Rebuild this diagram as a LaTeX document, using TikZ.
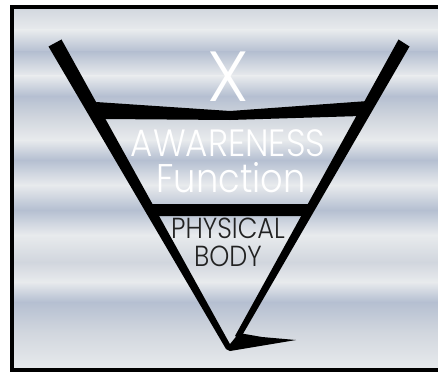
\documentclass[tikz,border=0pt]{standalone}
\usepackage{fontspec}
\newfontfamily\lightfont{Poppins}[UprightFont=* Light]
\definecolor{bglight}{rgb}{0.91,0.92,0.93}
\definecolor{bgmid}{rgb}{0.82,0.84,0.87}
\definecolor{bgblue}{rgb}{0.71,0.75,0.82}
\definecolor{inkgray}{HTML}{222222}
\begin{document}
\begin{tikzpicture}[x=1pt, y=-1pt,
          ink/.style={fill=black, draw=none},
          lbl/.style={inner sep=0pt, text=white, font=\lightfont},
          dlbl/.style={lbl, text=inkgray, text height=20pt, text depth=0pt}]
        \useasboundingbox (0,0) rectangle (438,377);
        \fill[white] (0,0) rectangle (438,377);
        % streaky background
        \foreach \ya/\ca/\yb/\cb in {7/bgmid/30/bglight, 30/bglight/52/bgblue, 52/bgblue/76/bglight,
            76/bglight/96/bgblue, 96/bgblue/118/bgmid, 118/bgmid/140/bglight, 140/bglight/160/bgblue,
            160/bgblue/185/bglight, 185/bglight/210/bgblue, 210/bgblue/235/bglight, 235/bglight/262/bgmid,
            262/bgmid/282/bglight, 282/bglight/302/bgblue, 302/bgblue/332/bgmid, 332/bgmid/370/bglight}
          \shade[top color=\ca, bottom color=\cb] (12,\ya) rectangle (438,\yb);
        \draw[line width=4pt] (438,7) -- (12,7) -- (12,370) -- (438,370);
        % the glass
        \fill[ink] (48.5,46.5) -- (61.5,39.5) -- (231,346) -- (226,349) -- cycle;
        \fill[ink] (398.5,39.5) -- (409.5,46.5) -- (240,339) -- (235,336) -- cycle;
        \fill[ink] (226,349) -- (239,333) -- (262,337) -- (296,340) -- (230,351) -- cycle;
        \fill[ink] (96,102) -- (230,111) -- (368,101) -- (361,116) -- (230,120) -- (104,119) -- cycle;
        \fill[ink] (148,204) -- (311,204) -- (306,216) -- (154,216) -- cycle;
        % labels
        \node[lbl, font=\lightfont\fontsize{71}{71}\selectfont] (x) at (228,77) {X};
        \node[lbl, font=\lightfont\fontsize{38}{38}\selectfont, xscale=0.9] (awareness) at (228,143) {AWARENESS};
        \node[lbl, font=\lightfont\fontsize{40}{40}\selectfont, xscale=0.88] (function) at (231,178) {Function};
        \node[dlbl, font=\lightfont\fontsize{29}{29}\selectfont, xscale=0.88] (physical) at (228,228.5) {PHYSICAL};
        \node[dlbl, font=\lightfont\fontsize{29}{29}\selectfont, xscale=0.88] (body) at (228,256.5) {BODY};
      \end{tikzpicture}
\end{document}
